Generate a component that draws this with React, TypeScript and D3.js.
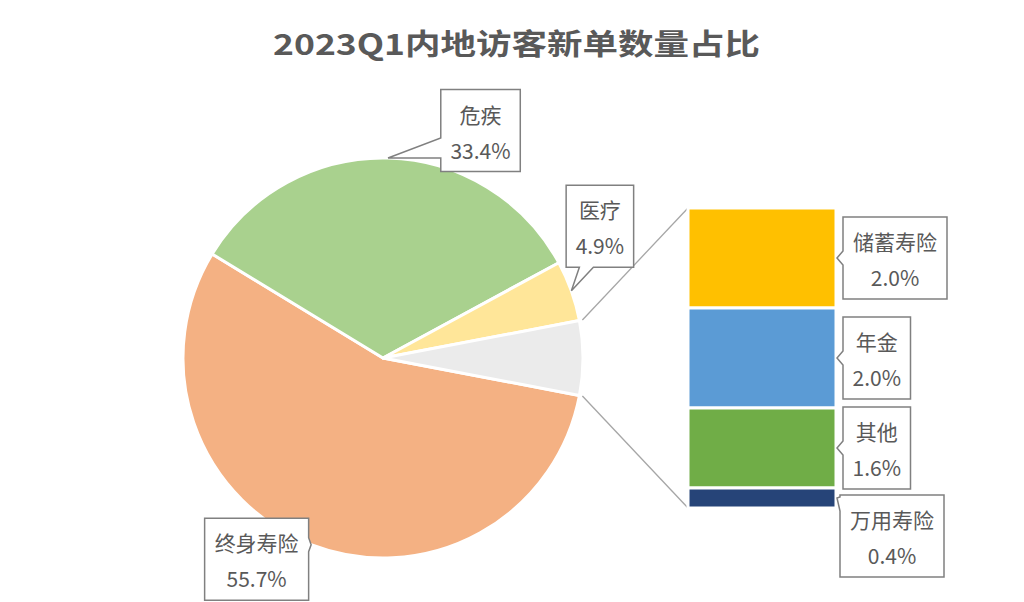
import React from 'react';
import * as d3 from 'd3';

// ---- data ----
const title = '2023Q1内地访客新单数量占比';
const pieCategories = ['终身寿险', '危疾', '医疗'];
const pieValues = [55.7, 33.4, 4.9];
const pieColors = ['#F4B183', '#A9D18E', '#FFE699'];
const otherColor = '#EBEBEB';
const barCategories = ['储蓄寿险', '年金', '其他', '万用寿险'];
const barValues = [2.0, 2.0, 1.6, 0.4];
const barColors = ['#FFC000', '#5B9BD5', '#70AD47', '#264478'];

// ---- layout ----
const W = 1024;
const H = 602;
const cx = 383;
const cy = 358;
const R = 200;
const startDeg = 100.8;
const barX0 = 688;
const barX1 = 836;
const barTop = 208;
const barBottom = 508;
const pieLabelOffset: [number, number][] = [
  [-54.5, 14.5],
  [92.5, -27.5],
  [28.5, -64.5],
];
const BOX_H = 82;
const FONT = '"Noto Sans CJK SC", "Noto Sans", sans-serif';
const TEXT = '#595959';
const BORDER = '#808080';

function textWidth(s: string): number {
  let w = 0;
  for (const ch of s) {
    if (/[0-9]/.test(ch)) w += 12;
    else if (ch === '.') w += 5.5;
    else if (ch === '%') w += 18;
    else w += 21;
  }
  return w;
}

function fmt(v: number) {
  return v.toFixed(1) + '%';
}

const clamp = (v: number, a: number, b: number) => Math.max(a, Math.min(b, v));

function calloutPath(L: number, T: number, Rr: number, B: number, tip: [number, number]) {
  const [tx, ty] = tip;
  let side: 'left' | 'right' | 'top' | 'bottom';
  if (tx < L) side = 'left';
  else if (tx > Rr) side = 'right';
  else if (ty > B) side = 'bottom';
  else side = 'top';
  let lo = 0;
  let hi = 0;
  if (side === 'left' || side === 'right') {
    const dist = side === 'left' ? L - tx : tx - Rr;
    if (dist > 20) {
      lo = ty - 20;
      hi = ty;
    } else {
      lo = ty - 7;
      hi = ty + 7;
    }
    const shift = clamp(lo, T + 2, B - 16) - lo;
    lo += shift;
    hi += shift;
  } else {
    lo = clamp(tx + 8, L + 2, Rr - 16);
    hi = lo + 14;
  }
  const pts: [number, number][] = [];
  pts.push([L, T]);
  if (side === 'top') pts.push([lo, T], tip, [hi, T]);
  pts.push([Rr, T]);
  if (side === 'right') pts.push([Rr, lo], tip, [Rr, hi]);
  pts.push([Rr, B]);
  if (side === 'bottom') pts.push([hi, B], tip, [lo, B]);
  pts.push([L, B]);
  if (side === 'left') pts.push([L, hi], tip, [L, lo]);
  return 'M' + pts.map((p) => p.join(',')).join('L') + 'Z';
}

function Callout({ L, T, name, value, tip }: { L: number; T: number; name: string; value: number; tip: [number, number] }) {
  const w = Math.max(textWidth(name), textWidth(fmt(value))) + 20;
  const Rr = L + w;
  const B = T + BOX_H;
  const mid = L + w / 2;
  return (
    <g>
      <path d={calloutPath(L, T, Rr, B, tip)} fill="#fff" stroke={BORDER} strokeWidth={1.5} strokeLinejoin="miter" />
      <text x={mid} y={T + 24} textAnchor="middle" dominantBaseline="central" fontSize={21} fill={TEXT} fontFamily={FONT}>
        {name}
      </text>
      <text x={mid} y={T + 60} textAnchor="middle" dominantBaseline="central" fontSize={21} fill={TEXT} fontFamily={FONT}>
        {fmt(value)}
      </text>
    </g>
  );
}

export default function App() {
  const otherTotal = d3.sum(barValues);
  const allValues = [...pieValues, otherTotal];
  const allColors = [...pieColors, otherColor];
  const toRad = (d: number) => (d * Math.PI) / 180;
  const pie = d3
    .pie<number>()
    .sort(null)
    .value((d) => d)
    .startAngle(toRad(startDeg))
    .endAngle(toRad(startDeg) + 2 * Math.PI);
  const arcs = pie(allValues);
  const arc = d3.arc<d3.PieArcDatum<number>>().innerRadius(0).outerRadius(R);
  const pt = (a: number, r: number): [number, number] => [cx + r * Math.sin(a), cy - r * Math.cos(a)];

  const yScale = d3.scaleLinear().domain([0, otherTotal]).range([barTop, barBottom]);
  let acc = 0;
  const segs = barValues.map((v, i) => {
    const y0 = yScale(acc);
    acc += v;
    const y1 = yScale(acc);
    return { name: barCategories[i], value: v, color: barColors[i], y0, y1 };
  });

  const otherArc = arcs[arcs.length - 1];
  const c1 = pt(otherArc.startAngle, R + 3);
  const c2 = pt(otherArc.endAngle, R + 3);

  // bar labels stacking
  let prevBottom = -Infinity;
  const barLabels = segs.map((s) => {
    const c = (s.y0 + s.y1) / 2;
    const T = Math.max(c - BOX_H / 2, prevBottom + 6);
    prevBottom = T + BOX_H;
    const L = T > c - BOX_H / 2 + 1 ? barX1 + 4 : barX1 + 7;
    return { ...s, T, L, tip: [barX1 + 1, c] as [number, number] };
  });

  return (
    <svg width={W} height={H} style={{ position: 'absolute', left: 0, top: 0, background: '#fff' }}>
      <rect x={0} y={0} width={W} height={H} fill="#fff" />
      <text
        x={273}
        y={55}
        textLength={487}
        lengthAdjust="spacingAndGlyphs"
        fontSize={29}
        fontWeight="bold"
        fill={TEXT}
        fontFamily={FONT}
      >
        {title}
      </text>

      {/* connectors */}
      <line x1={c1[0]} y1={c1[1]} x2={barX0} y2={barTop} stroke="#A6A6A6" strokeWidth={1.3} />
      <line x1={c2[0]} y1={c2[1]} x2={barX0} y2={barBottom} stroke="#A6A6A6" strokeWidth={1.3} />

      {/* pie */}
      <g transform={`translate(${cx},${cy})`}>
        {arcs.map((a, i) => (
          <path key={i} d={arc(a) || ''} fill={allColors[i]} stroke="#fff" strokeWidth={3} strokeLinejoin="round" />
        ))}
      </g>

      {/* bar */}
      {segs.map((s, i) => (
        <rect key={i} x={barX0} y={s.y0} width={barX1 - barX0} height={s.y1 - s.y0} fill={s.color} stroke="#fff" strokeWidth={3} />
      ))}

      {/* pie labels */}
      {pieCategories.map((name, i) => {
        const a = arcs[i];
        const mid = (a.startAngle + a.endAngle) / 2;
        const tip = pt(mid, R);
        const w = Math.max(textWidth(name), textWidth(fmt(pieValues[i]))) + 20;
        const ccx = tip[0] + pieLabelOffset[i][0];
        const ccy = tip[1] + pieLabelOffset[i][1];
        return <Callout key={name} L={ccx - w / 2} T={ccy - BOX_H / 2} name={name} value={pieValues[i]} tip={tip} />;
      })}

      {/* bar labels */}
      {barLabels.map((b) => (
        <Callout key={b.name} L={b.L} T={b.T} name={b.name} value={b.value} tip={b.tip} />
      ))}
    </svg>
  );
}
